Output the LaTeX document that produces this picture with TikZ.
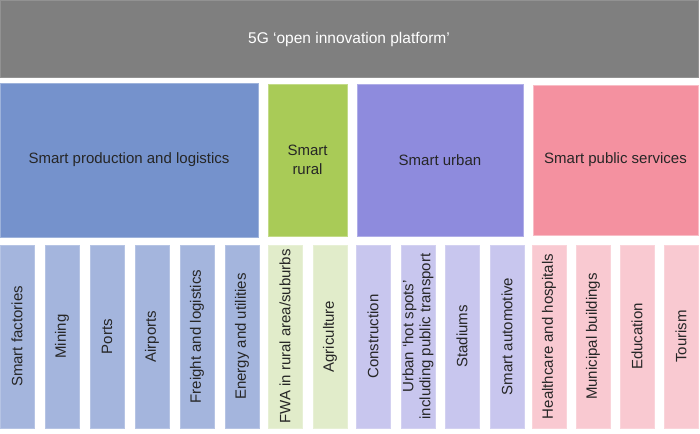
\documentclass[tikz,border=0pt]{standalone}
\usepackage{fontspec}
\setmainfont{Liberation Sans}
\definecolor{topgray}{HTML}{7F7F7F}
\definecolor{hblue}{HTML}{7592CC}
\definecolor{hgreen}{HTML}{A9CB57}
\definecolor{hpurple}{HTML}{8E8BDD}
\definecolor{hpink}{HTML}{F491A0}
\definecolor{lblue}{HTML}{A4B5DD}
\definecolor{lgreen}{HTML}{E1ECCA}
\definecolor{lpurple}{HTML}{C8C6EE}
\definecolor{lpink}{HTML}{F9C9D1}
\definecolor{txt}{HTML}{262626}
\begin{document}
\begin{tikzpicture}[x=1pt,y=-1pt,
  box/.style={rectangle,inner sep=0pt,outer sep=0pt,anchor=north west,line width=0.8pt},
  lbl/.style={font=\fontsize{15}{17}\selectfont,text=txt,align=center,inner sep=0pt},
  vlbl/.style={lbl,rotate=90},
  colbox/.style={box,minimum width=34pt,minimum height=183pt}
]
\useasboundingbox (0,0) rectangle (700,433);
% top bar
\node[box,fill=topgray,draw=topgray!85!white,minimum width=698pt,minimum height=77pt] (top) at (0,0) {};
\node[lbl,text=white,font=\fontsize{15.5}{18}\selectfont] (toplbl) at ([yshift=-1pt]top.center) {5G ‘open innovation platform’};
% headers
\node[box,fill=hblue,draw=hblue!70!white,minimum width=258pt,minimum height=154pt] (hprod) at (0,83) {};
\node[lbl] (hprodl) at (hprod.center) {Smart production and logistics};
\node[box,fill=hgreen,draw=hgreen!70!white,minimum width=79pt,minimum height=152pt] (hrur) at (268,84) {};
\node[lbl] (hrurl) at (hrur.center) {Smart\\[2pt]rural};
\node[box,fill=hpurple,draw=hpurple!70!white,minimum width=166pt,minimum height=152pt] (hurb) at (357,84) {};
\node[lbl] (hurbl) at (hurb.center) {Smart urban};
\node[box,fill=hpink,draw=hpink!60!white,minimum width=165pt,minimum height=150pt] (hpub) at (533,85) {};
\node[lbl] (hpubl) at (hpub.center) {Smart public services};
% columns
\foreach \x/\c/\t [count=\i] in {
  0/lblue/{Smart factories},
  45/lblue/{Mining},
  90/lblue/{Ports},
  135/lblue/{Airports},
  180/lblue/{Freight and logistics},
  225/lblue/{Energy and utilities},
  268/lgreen/{FWA in rural area/suburbs},
  313/lgreen/{Agriculture},
  356/lpurple/{Construction},
  401/lpurple/{Urban ‘hot spots’\\including public transport},
  445/lpurple/{Stadiums},
  490/lpurple/{Smart automotive},
  532/lpink/{Healthcare and hospitals},
  576/lpink/{Municipal buildings},
  620/lpink/{Education},
  664/lpink/{Tourism}}{
  \node[colbox,fill=\c,draw=\c!80!white] (col\i) at (\x,245) {};
  \node[vlbl] (col\i l) at (col\i.center) {\t};
}
\end{tikzpicture}
\end{document}
